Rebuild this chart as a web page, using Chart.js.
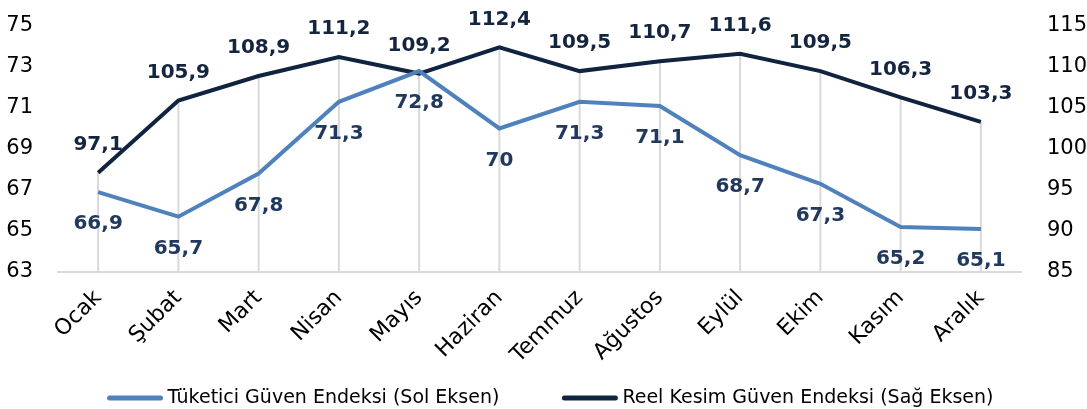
<!DOCTYPE html>
<html>
<head>
<meta charset="utf-8">
<script src="https://cdn.jsdelivr.net/npm/chart.js@4.4.1/dist/chart.umd.min.js"></script>
<style>
  html, body { margin: 0; padding: 0; background: #fff; }
  #wrap { width: 1087px; height: 409px; position: relative; }
</style>
</head>
<body>
<div id="wrap"><canvas id="guvenChart"></canvas></div>
<script>
// data
const months = ['Ocak', 'Şubat', 'Mart', 'Nisan', 'Mayıs', 'Haziran', 'Temmuz', 'Ağustos', 'Eylül', 'Ekim', 'Kasım', 'Aralık'];
const tuketici = [66.9, 65.7, 67.8, 71.3, 72.8, 70, 71.3, 71.1, 68.7, 67.3, 65.2, 65.1];
const reelKesim = [97.1, 105.9, 108.9, 111.2, 109.2, 112.4, 109.5, 110.7, 111.6, 109.5, 106.3, 103.3];
const leftAxis = { min: 63, max: 75, step: 2 };
const rightAxis = { min: 85, max: 115, step: 5 };

const FONT = "'DejaVu Sans', Verdana, sans-serif";
const LIGHT = '#4f81bd';
const DARK = '#10233f';
const GRID = '#d9d9d9';

function trNum(v) {
    return String(v).replace('.', ',');
}

// vertical drop lines from the highest point down to the axis
const dropLines = {
    id: 'dropLines',
    beforeDatasetsDraw(chart) {
        const ctx = chart.ctx;
        const area = chart.chartArea;
        const m0 = chart.getDatasetMeta(0).data;
        const m1 = chart.getDatasetMeta(1).data;
        ctx.save();
        ctx.strokeStyle = GRID;
        ctx.lineWidth = 2;
        m1.forEach((pt, i) => {
            const top = Math.min(pt.y, m0[i].y);
            ctx.beginPath();
            ctx.moveTo(pt.x, top);
            ctx.lineTo(pt.x, area.bottom);
            ctx.stroke();
        });
        ctx.restore();
    }
};

// value labels
const valueLabels = {
    id: 'valueLabels',
    afterDatasetsDraw(chart) {
        const ctx = chart.ctx;
        ctx.save();
        ctx.font = "bold 20px " + FONT;
        ctx.textAlign = 'center';
        ctx.textBaseline = 'middle';
        chart.data.datasets.forEach((ds, di) => {
            const meta = chart.getDatasetMeta(di);
            ctx.fillStyle = di === 0 ? '#22395e' : '#14253f';
            meta.data.forEach((pt, i) => {
                const dy = di === 0 ? 32 : -28;
                ctx.fillText(trNum(ds.data[i]), pt.x, pt.y + dy);
            });
        });
        ctx.restore();
    }
};

// legend at the bottom, drawn by hand to get the wide gap between items
const bottomLegend = {
    id: 'bottomLegend',
    afterDraw(chart) {
        const ctx = chart.ctx;
        const sets = chart.data.datasets;
        const lineW = 55, textGap = 5, itemGap = 63;
        const y = chart.height - 11;
        ctx.save();
        ctx.font = "19px " + FONT;
        const widths = sets.map(ds => ctx.measureText(ds.label).width);
        const total = widths.reduce((a, w) => a + lineW + textGap + w, 0) + itemGap * (sets.length - 1);
        let x = chart.width / 2 + 7 - total / 2;
        ctx.textBaseline = 'middle';
        ctx.lineCap = 'round';
        sets.forEach((ds, i) => {
            ctx.strokeStyle = ds.borderColor;
            ctx.lineWidth = 5;
            ctx.beginPath();
            ctx.moveTo(x + 2, y);
            ctx.lineTo(x + lineW - 2, y);
            ctx.stroke();
            ctx.fillStyle = '#000';
            ctx.fillText(ds.label, x + lineW + textGap, y);
            x += lineW + textGap + widths[i] + itemGap;
        });
        ctx.restore();
    }
};

function noPad(s) {
    s.paddingTop = 26;
    s.paddingBottom = 0;
}

new Chart(document.getElementById('guvenChart'), {
    type: 'line',
    data: {
        labels: months,
        datasets: [
            {
                label: 'Tüketici Güven Endeksi (Sol Eksen)',
                data: tuketici,
                borderColor: LIGHT, backgroundColor: LIGHT,
                borderWidth: 4, pointRadius: 0, tension: 0,
                yAxisID: 'y'
            },
            {
                label: 'Reel Kesim Güven Endeksi (Sağ Eksen)',
                data: reelKesim,
                borderColor: DARK, backgroundColor: DARK,
                borderWidth: 4, pointRadius: 0, tension: 0,
                yAxisID: 'y1'
            }
        ]
    },
    options: {
        responsive: true, maintainAspectRatio: false, animation: false,
        layout: { padding: { top: 0, bottom: 36, left: 0, right: 0 } },
        plugins: {
            legend: { display: false },
            tooltip: { enabled: false }
        },
        scales: {
            x: {
                offset: true,
                grid: { display: false },
                border: { display: true, color: GRID, width: 2 },
                ticks: { color: '#000', maxRotation: 45, minRotation: 45, padding: 5, font: { family: FONT, size: 22 } },
                afterFit: s => { s.height = 101; }
            },
            y: {
                position: 'left',
                min: leftAxis.min, max: leftAxis.max,
                grid: { display: false },
                border: { display: false },
                ticks: { stepSize: leftAxis.step, color: '#000', padding: 17, font: { family: FONT, size: 21 } },
                afterFit: s => { s.width = 58; noPad(s); }
            },
            y1: {
                position: 'right',
                min: rightAxis.min, max: rightAxis.max,
                grid: { display: false },
                border: { display: false },
                ticks: { stepSize: rightAxis.step, color: '#000', padding: 18, font: { family: FONT, size: 21 } },
                afterFit: s => { s.width = 66; noPad(s); }
            }
        }
    },
    plugins: [dropLines, valueLabels, bottomLegend]
});
</script>
</body>
</html>
